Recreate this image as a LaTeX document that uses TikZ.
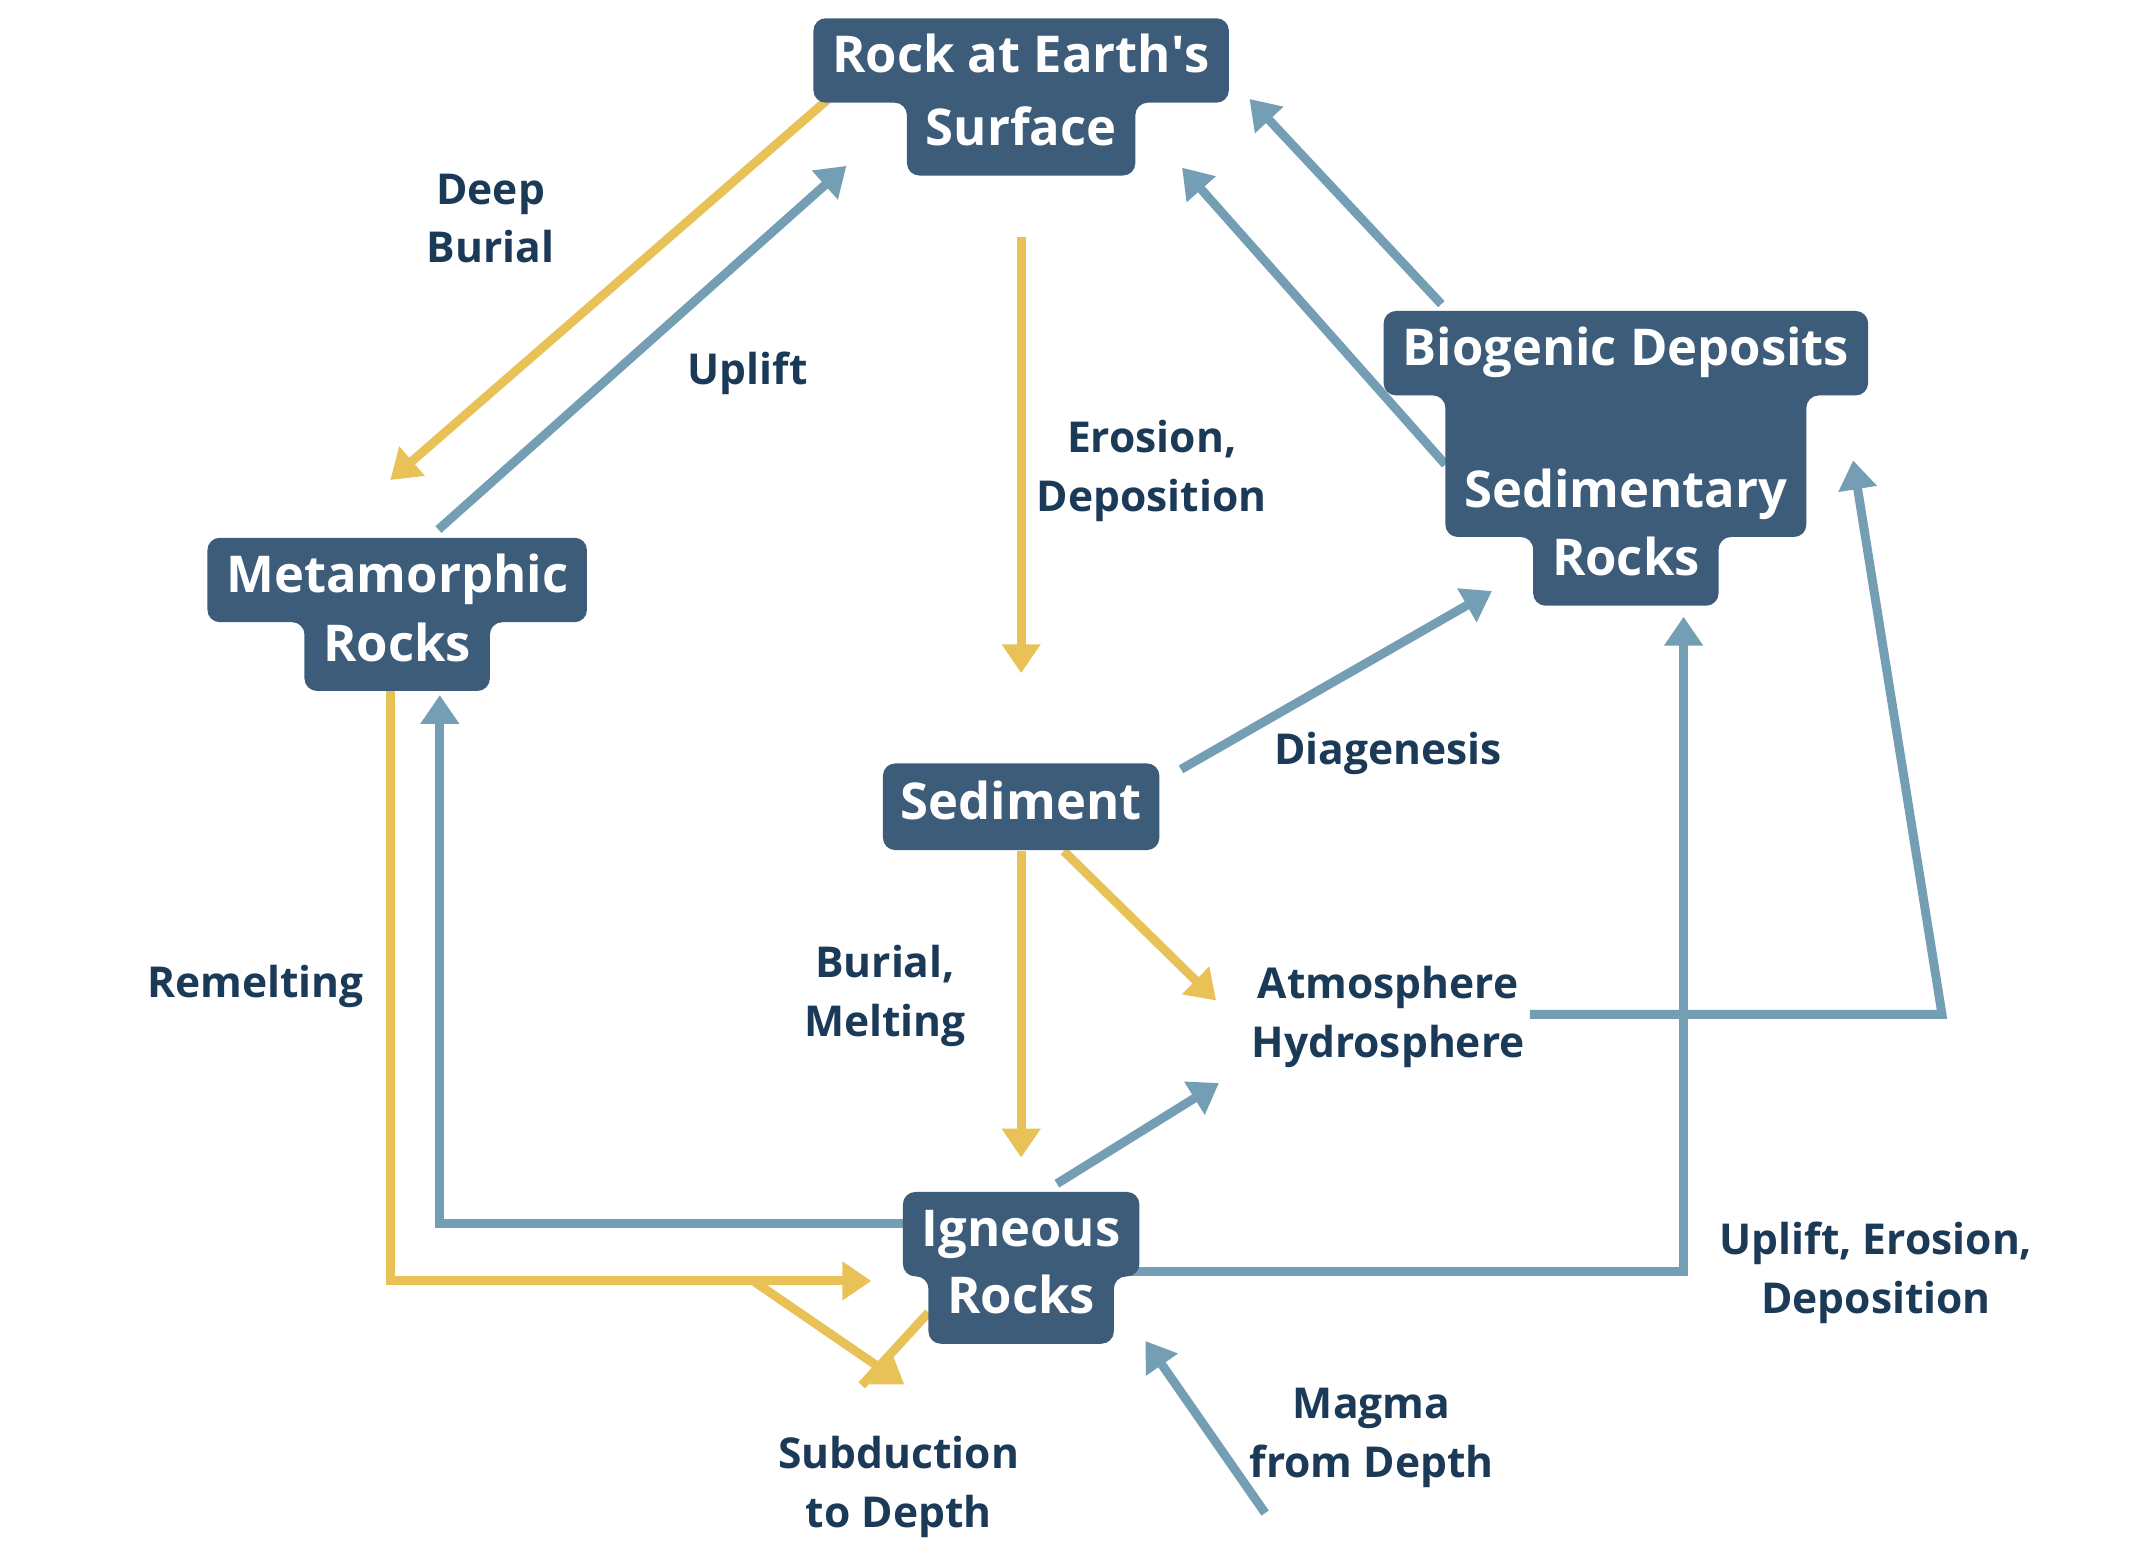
\documentclass[tikz,border=0pt]{standalone}
\usepackage{fontspec}
\setmainfont{Open Sans}
\usetikzlibrary{arrows.meta}

\definecolor{boxblue}{HTML}{3D5C7A}
\definecolor{labelblue}{HTML}{1B3A57}
\definecolor{ochre}{HTML}{E8C257}
\definecolor{steel}{HTML}{749EB4}

\newcommand{\nodefont}{\bfseries\fontsize{10.5}{12}\selectfont}
\newcommand{\lblfont}{\bfseries\fontsize{8.8}{12.2}\selectfont}

% shape behind a two or three line box
\newcommand{\twobox}[2]{\fill[boxblue,rounded corners=0.09cm] (#1.north west) -- (#1.north east) -- (#1.south east) -- (#1.south -| #2.east) -- (#2.south east) -- (#2.south west) -- (#1.south -| #2.west) -- (#1.south west) -- cycle;}
\newcommand{\threebox}[3]{\fill[boxblue,rounded corners=0.09cm] (#1.north west) -- (#1.north east) -- (#1.south east) -- (#1.south -| #2.east) -- (#2.south -| #2.east) -- (#2.south -| #3.east) -- (#3.south east) -- (#3.south west) -- (#2.south -| #3.west) -- (#2.south west) -- (#1.south -| #2.west) -- (#1.south west) -- cycle;}

\pgfdeclarelayer{back}
\pgfdeclarelayer{mid}
\pgfsetlayers{back,mid,main}

\begin{document}
\begin{tikzpicture}
          [x=0.01cm,y=-0.01cm,
           ln/.style={text=white,font=\nodefont,inner xsep=0.13cm,inner ysep=0pt,text height=0.25cm,text depth=0.07cm,minimum height=0.6cm},
           box/.style={ln,fill=boxblue,rounded corners=0.09cm,minimum height=0.63cm},
           lbl/.style={text=labelblue,font=\lblfont,align=center,inner sep=0pt},
           yarr/.style={draw=ochre,line width=0.065cm,-{Triangle[length=0.21cm,width=0.27cm]}},
           barr/.style={yarr,draw=steel},
           yline/.style={draw=ochre,line width=0.065cm},
           bline/.style={draw=steel,line width=0.065cm}]

          \useasboundingbox (0,0) rectangle (1560,1124);

          % rock boxes
          \node[ln] (surf1) at (743,44) {Rock at Earth\textquotesingle s};
          \node[ln] (surf2) at (743,97) {Surface};
          \node[ln] (meta1) at (289,422) {Metamorphic};
          \node[ln] (meta2) at (289,472) {Rocks};
          \node[ln] (bio1) at (1183,257) {Biogenic Deposits};
          \node[ln] (bio2) at (1183,360) {Sedimentary};
          \node[ln] (bio3) at (1183,410) {Rocks};
          \node[box] (sed) at (743,587) {Sediment};
          \node[ln] (ign1) at (743,898) {Igneous};
          \node[ln] (ign2) at (743,947) {Rocks};

          \begin{pgfonlayer}{mid}
            \twobox{surf1}{surf2}
            \twobox{meta1}{meta2}
            \threebox{bio1}{bio2}{bio3}
            \twobox{ign1}{ign2}
          \end{pgfonlayer}

          % labels
          \node[lbl] (deep) at (357,159) {Deep\\Burial};
          \node[lbl] (upl) at (544,272) {Uplift};
          \node[lbl] (eros) at (838,343) {Erosion,\\Deposition};
          \node[lbl] (diag) at (1010,548) {Diagenesis};
          \node[lbl] (remelt) at (186,718) {Remelting};
          \node[lbl] (burmelt) at (644,725) {Burial,\\Melting};
          \node[lbl] (atm) at (1010,740) {Atmosphere\\Hydrosphere};
          \node[lbl] (uped) at (1365,926) {Uplift, Erosion,\\Deposition};
          \node[lbl] (magma) at (998,1046) {Magma\\from Depth};
          \node[lbl] (subd) at (654,1082) {Subduction\\to Depth};

          \coordinate (split) at (548,932);
          \coordinate (join) at (627,1008);
          \coordinate (bend) at (1413,738);

          \begin{pgfonlayer}{back}
            \draw[yarr] ([shift={(10,-2)}]surf1.south west) -- ([shift={(-5,-42)}]meta1.north);
            \draw[yarr] ([shift={(0,45)}]surf2.south) -- ([shift={(0,-65)}]sed.north);
            \draw[yarr] (sed.south) -- ([shift={(0,-25)}]ign1.north);
            \draw[yarr] ([shift={(31,0)}]sed.south) -- ([shift={(-25,-12)}]atm.west);
            \draw[yarr] ([shift={(-5,0)}]meta2.south) |- ([shift={(-23,34)}]ign1.west);
            \draw[yarr] (split) -- ([shift={(4,-37)}]subd.north);
            \draw[yline] ([shift={(0,8)}]ign2.west) -- (join);

            \draw[barr] ([shift={(30,-6)}]meta1.north) -- ([shift={(24,46)}]surf1.south west);
            \draw[barr] ([shift={(42,-5)}]bio1.north west) -- ([shift={(15,28)}]surf1.east);
            \draw[barr] ([shift={(0,-22)}]bio2.west) -- ([shift={(34,25)}]surf2.east);
            \draw[barr] ([shift={(15,5)}]sed.north east) -- ([shift={(-30,20)}]bio3.west);
            \draw[barr] ([shift={(26,-6)}]ign1.north) -- ([shift={(-23,48)}]atm.west);
            \draw[barr] ([shift={(0,-8)}]ign1.west) -| ([shift={(31,3)}]meta2.south);
            \draw[barr] ([shift={(0,-22)}]ign2.east) -| ([shift={(42,8)}]bio3.south);
            \draw[barr] ([shift={(3,-2)}]atm.east) -- (bend) -- ([shift={(34,-25)}]bio2.east);
            \draw[barr] ([shift={(12,18)}]magma.south west) -- ([shift={(23,-2)}]ign2.south east);
          \end{pgfonlayer}
        \end{tikzpicture}
\end{document}
